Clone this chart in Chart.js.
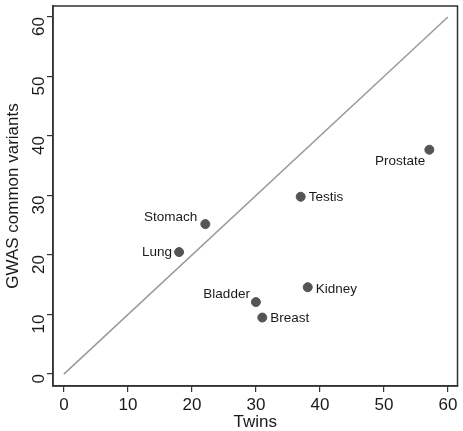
<!DOCTYPE html>
<html>
<head>
<meta charset="utf-8">
<script src="https://cdn.jsdelivr.net/npm/chart.js@4"></script>
<style>
  html, body { margin: 0; padding: 0; background: #fff; }
  #wrap { width: 463px; height: 431px; }
</style>
</head>
<body>
<div id="wrap"><canvas id="gwasChart" width="463" height="431"></canvas></div>
<script>
// cancer types, twin-based vs GWAS-based estimates
const cancers = ['Prostate', 'Testis', 'Stomach', 'Lung', 'Kidney', 'Bladder', 'Breast'];
const twinValues = [57.1, 37.0, 22.1, 18.0, 38.1, 30.0, 31.0];
const gwasValues = [37.7, 29.8, 25.2, 20.5, 14.6, 12.1, 9.5];
const xTicks = [0, 10, 20, 30, 40, 50, 60];
const yTicks = [0, 10, 20, 30, 40, 50, 60];
const identityLine = [0, 60];

const FONT = '"Liberation Sans", Arial, Helvetica, sans-serif';

// where each label sits relative to its dot
const labelPlacement = {
    'Prostate': { align: 'right', dx: -4, dy: 12 },
    'Testis': { align: 'left', dx: 8, dy: 1 },
    'Stomach': { align: 'right', dx: -8, dy: -7 },
    'Lung': { align: 'right', dx: -7, dy: 0 },
    'Kidney': { align: 'left', dx: 8, dy: 2 },
    'Bladder': { align: 'right', dx: -6, dy: -8 },
    'Breast': { align: 'left', dx: 8, dy: 1 }
};

const pointLabels = {
    id: 'pointLabels',
    afterDatasetsDraw(chart) {
        const ctx = chart.ctx;
        const xs = chart.scales.x, ys = chart.scales.y;
        ctx.save();
        ctx.font = '13.5px ' + FONT;
        ctx.fillStyle = '#1a1a1a';
        ctx.textBaseline = 'middle';
        cancers.forEach((name, i) => {
            const p = labelPlacement[name];
            ctx.textAlign = p.align;
            ctx.fillText(name, xs.getPixelForValue(twinValues[i]) + p.dx, ys.getPixelForValue(gwasValues[i]) + p.dy);
        });
        ctx.restore();
    }
};

const frameBox = {
    id: 'frameBox',
    afterDraw(chart) {
        const a = chart.chartArea;
        const ctx = chart.ctx;
        ctx.save();
        ctx.strokeStyle = '#333';
        ctx.lineWidth = 1.5;
        ctx.strokeRect(a.left, a.top, a.right - a.left, a.bottom - a.top);
        ctx.restore();
    }
};

new Chart(document.getElementById('gwasChart').getContext('2d'), {
    type: 'scatter',
    data: {
        datasets: [
            {
                type: 'line',
                data: identityLine.map(v => ({ x: v, y: v })),
                borderColor: '#9a9a9a',
                borderWidth: 1.5,
                pointRadius: 0,
                fill: false
            },
            {
                data: cancers.map((c, i) => ({ x: twinValues[i], y: gwasValues[i] })),
                backgroundColor: '#555555',
                borderColor: '#555555',
                pointRadius: 4.5,
                pointHoverRadius: 4.5
            }
        ]
    },
    options: {
        responsive: false,
        animation: false,
        layout: { padding: { top: 6, right: 3, left: 0, bottom: 0 } },
        plugins: {
            legend: { display: false },
            tooltip: { enabled: false }
        },
        scales: {
            x: {
                type: 'linear',
                min: -1.7,
                max: 61.5,
                afterBuildTicks: s => { s.ticks = xTicks.map(v => ({ value: v })); },
                afterFit: s => { s.height = 45; s.paddingLeft = 0; s.paddingRight = 0; },
                grid: { display: true, drawOnChartArea: false, drawTicks: true, tickLength: 6, color: '#333', lineWidth: 1.2 },
                border: { display: true, color: '#333', width: 1.5 },
                ticks: { font: { family: FONT, size: 17 }, color: '#1a1a1a', padding: 3, maxRotation: 0 },
                title: { display: true, text: 'Twins', font: { family: FONT, size: 17 }, color: '#1a1a1a', padding: { top: 0, bottom: -2 } }
            },
            y: {
                type: 'linear',
                min: -2,
                max: 61.85,
                afterBuildTicks: s => { s.ticks = yTicks.map(v => ({ value: v })); },
                afterFit: s => { s.width = 53; s.paddingTop = 0; s.paddingBottom = 0; },
                grid: { display: true, drawOnChartArea: false, drawTicks: true, tickLength: 6, color: '#333', lineWidth: 1.2 },
                border: { display: true, color: '#333', width: 1.5 },
                ticks: { font: { family: FONT, size: 17 }, color: '#1a1a1a', padding: 8, minRotation: 90, maxRotation: 90 },
                title: { display: true, text: 'GWAS common variants', font: { family: FONT, size: 17 }, color: '#1a1a1a', padding: { top: 3, bottom: 0 } }
            }
        }
    },
    plugins: [pointLabels, frameBox]
});
</script>
</body>
</html>
